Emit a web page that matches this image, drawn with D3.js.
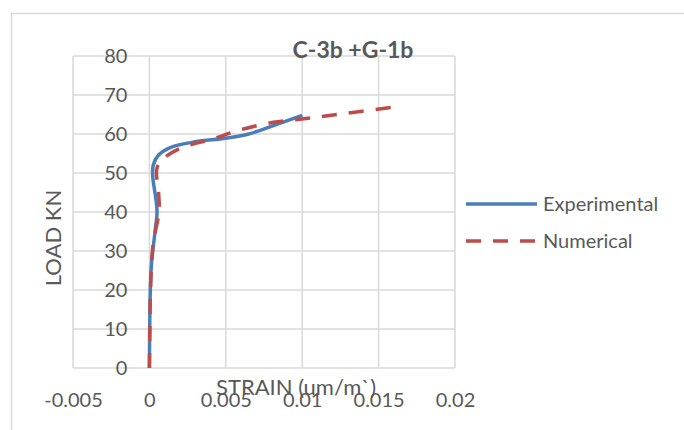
<!DOCTYPE html>
<html>
<head>
<meta charset="utf-8">
<script src="https://cdn.jsdelivr.net/npm/d3@7"></script>
<style>
  body { margin: 0; background: #fff; }
  text { font-family: Lato, "Open Sans", sans-serif; fill: #595959; }
</style>
</head>
<body>
<div id="chart"></div>
<script>
// Veri: [strain, load]
const experimental = [
  [0, 0], [0.00002, 10], [0.00006, 20], [0.00014, 27], [0.00025, 31],
  [0.0004, 36], [0.0005, 40], [0.0004, 44], [0.00022, 49], [0.00025, 52],
  [0.0006, 54.6], [0.0014, 56.6], [0.003, 58], [0.005, 58.9], [0.0065, 60],
  [0.0082, 62.3], [0.01, 64.8]
];
const numerical = [
  [0, 0], [0.00003, 10], [0.00007, 20], [0.00015, 27], [0.00025, 32],
  [0.00055, 38], [0.00065, 40], [0.0006, 45], [0.00048, 51], [0.0008, 53.3],
  [0.002, 56.3], [0.0042, 58.8], [0.0059, 61], [0.0081, 63], [0.0101, 63.9],
  [0.0123, 65], [0.016, 66.9]
];
const xTicks = [-0.005, 0, 0.005, 0.01, 0.015, 0.02];
const xTickLabels = ["-0.005", "0", "0.005", "0.01", "0.015", "0.02"];
const yTicks = [0, 10, 20, 30, 40, 50, 60, 70, 80];
const seriesNames = ["Experimental", "Numerical"];
const seriesColors = ["#4a7ebb", "#be4b48"];

const width = 684, height = 430;

const svg = d3.select("#chart")
  .append("svg")
  .attr("width", width)
  .attr("height", height);

// Dış çerçeve
svg.append("rect")
  .attr("x", 11.5)
  .attr("y", 13.5)
  .attr("width", 700)
  .attr("height", 450)
  .attr("fill", "none")
  .attr("stroke", "#d9d9d9")
  .attr("stroke-width", 1.5);

// Ölçekler
const x = d3.scaleLinear().domain([-0.005, 0.02]).range([73, 455]);
const y = d3.scaleLinear().domain([0, 80]).range([368, 56]);

// Izgara çizgileri
svg.append("g")
  .selectAll("line")
  .data(yTicks)
  .join("line")
  .attr("x1", x(-0.005))
  .attr("x2", x(0.02))
  .attr("y1", d => y(d))
  .attr("y2", d => y(d))
  .attr("stroke", "#d9d9d9")
  .attr("stroke-width", 1.5);

svg.append("g")
  .selectAll("line")
  .data(xTicks)
  .join("line")
  .attr("x1", d => x(d))
  .attr("x2", d => x(d))
  .attr("y1", y(0))
  .attr("y2", y(80))
  .attr("stroke", "#d9d9d9")
  .attr("stroke-width", 1.5);

// Eksen etiketleri (y ekseni x=0'da kesişiyor)
const xAxis = d3.axisBottom(x).tickValues(xTicks).tickSize(0).tickPadding(0)
  .tickFormat((d, i) => xTickLabels[i]);
const gx = svg.append("g")
  .attr("transform", `translate(0,${y(0)})`)
  .call(xAxis);
gx.select(".domain").remove();
gx.selectAll("text")
  .attr("y", 38.5)
  .attr("dy", null)
  .style("font-size", "20px")
  .style("font-family", "Lato, sans-serif")
  .attr("fill", "#595959");

const yAxis = d3.axisLeft(y).tickValues(yTicks).tickSize(0).tickPadding(22);
const gy = svg.append("g")
  .attr("transform", `translate(${x(0)},0)`)
  .call(yAxis);
gy.select(".domain").remove();
gy.selectAll("text")
  .style("font-size", "20px")
  .style("font-family", "Lato, sans-serif")
  .attr("fill", "#595959");

// Eğriler
const line = d3.line()
  .x(d => x(d[0]))
  .y(d => y(d[1]))
  .curve(d3.curveCatmullRom.alpha(0.5));

svg.append("path")
  .datum(experimental)
  .attr("d", line)
  .attr("fill", "none")
  .attr("stroke", seriesColors[0])
  .attr("stroke-width", 3.5)
  .attr("stroke-linejoin", "round");

svg.append("path")
  .datum(numerical)
  .attr("d", line)
  .attr("fill", "none")
  .attr("stroke", seriesColors[1])
  .attr("stroke-width", 3.5)
  .attr("stroke-dasharray", "15,12");

// Başlıklar
svg.append("text")
  .attr("x", 353)
  .attr("y", 58)
  .attr("text-anchor", "middle")
  .style("font-size", "23px")
  .style("font-weight", "bold")
  .text("C-3b +G-1b");

svg.append("text")
  .attr("x", 296)
  .attr("y", 395)
  .attr("text-anchor", "middle")
  .style("font-size", "22px")
  .text("STRAIN (um/m`)");

svg.append("text")
  .attr("transform", "translate(61,238) rotate(-90)")
  .attr("text-anchor", "middle")
  .style("font-size", "22px")
  .text("LOAD KN");

// Lejant
const legend = svg.append("g")
  .selectAll("g")
  .data(seriesNames)
  .join("g")
  .attr("transform", (d, i) => `translate(466,${204 + i * 37})`);

legend.append("line")
  .attr("x1", 0)
  .attr("x2", 71)
  .attr("stroke", (d, i) => seriesColors[i])
  .attr("stroke-width", 3.5)
  .attr("stroke-dasharray", (d, i) => i === 1 ? "15,12" : null);

legend.append("text")
  .attr("x", 77)
  .attr("dy", "0.35em")
  .style("font-size", "20px")
  .text(d => d);
</script>
</body>
</html>
